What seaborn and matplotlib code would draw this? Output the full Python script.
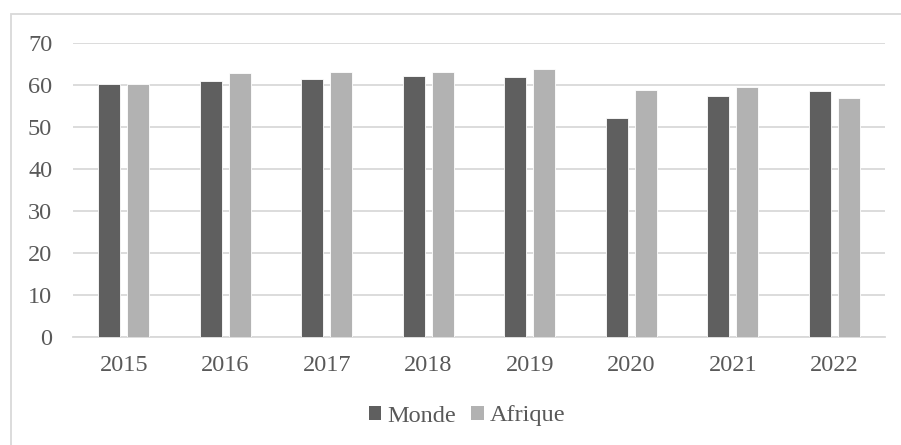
import matplotlib
matplotlib.use("Agg")
import matplotlib.pyplot as plt
from matplotlib.patches import Rectangle
import pandas as pd
import seaborn as sns

years = ["2015", "2016", "2017", "2018", "2019", "2020", "2021", "2022"]
monde = [60.1, 61.0, 61.3, 62.1, 61.8, 52.2, 57.3, 58.4]
afrique = [60.1, 62.9, 63.0, 63.0, 63.7, 58.7, 59.5, 56.9]
series_names = ["Monde", "Afrique"]
colors = ["#5f5f5f", "#b2b2b2"]

df = pd.DataFrame({
    "annee": years * 2,
    "valeur": monde + afrique,
    "serie": [series_names[0]] * len(years) + [series_names[1]] * len(years),
})

sns.set_theme(style="white")
plt.rcParams["font.family"] = ["Liberation Serif", "DejaVu Serif"]
text_color = "#595959"
grid_color = "#d9d9d9"
fs = 17.5

fig = plt.figure(figsize=(9.01, 4.45), dpi=100)
ax = fig.add_axes([73 / 901, 1 - 337 / 445, (885 - 73) / 901, (337 - 42.7) / 445])

sns.barplot(data=df, x="annee", y="valeur", hue="serie", hue_order=series_names,
            palette=colors, width=0.57, gap=0.24, ax=ax, legend=False,
            edgecolor="white", linewidth=0.6, errorbar=None, zorder=3)

ax.set_ylim(0, 70)
ax.set_xlim(-0.5, len(years) - 0.5)
ax.set_yticks(range(0, 71, 10))
ax.yaxis.grid(True, color=grid_color, linewidth=1.3, zorder=0)
ax.set_axisbelow(True)
for s in ["top", "right", "left"]:
    ax.spines[s].set_visible(False)
ax.spines["bottom"].set_color(grid_color)
ax.spines["bottom"].set_linewidth(1.3)
ax.tick_params(axis="both", length=0, labelsize=fs, colors=text_color)
ax.tick_params(axis="y", pad=15)
ax.tick_params(axis="x", pad=13)
ax.set_xlabel("")
ax.set_ylabel("")

handles = [Rectangle((0, 0), 1, 1, facecolor=c, edgecolor="none") for c in colors]
fig.legend(handles, series_names, loc="center", bbox_to_anchor=(467 / 901, 1 - 416 / 445),
           ncol=2, frameon=False, fontsize=fs, labelcolor=text_color,
           handlelength=0.5, handleheight=0.5, handletextpad=0.25, columnspacing=0.65)

# chart frame
fig.patches.append(Rectangle((11 / 901, -0.1), 1.0, 1 - 14 / 445 + 0.1,
                             transform=fig.transFigure, fill=False,
                             edgecolor=grid_color, linewidth=1.3))

fig.savefig("out.png", dpi=100)
